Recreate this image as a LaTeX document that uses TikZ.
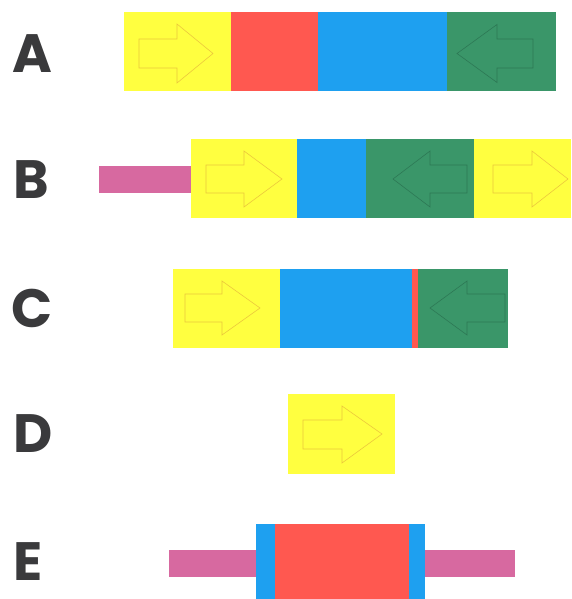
\documentclass[tikz,border=0pt]{standalone}
\usepackage{fontspec}
\setmainfont{Poppins}
\definecolor{yel}{RGB}{255,255,64}
\definecolor{redc}{RGB}{255,88,80}
\definecolor{bluc}{RGB}{30,160,240}
\definecolor{grnc}{RGB}{58,150,105}
\definecolor{pnk}{RGB}{215,105,160}
\definecolor{lettergray}{RGB}{58,58,60}
\definecolor{arrowy}{RGB}{235,200,60}
\definecolor{arrowg}{RGB}{45,120,85}
\begin{document}
\begin{tikzpicture}[x=1pt,y=-1pt,
  box/.style={draw=none, inner sep=0pt, outer sep=0pt, anchor=north west},
  lbl/.style={font=\fontsize{54}{54}\selectfont\bfseries, text=lettergray, inner sep=0pt, anchor=west},
  yarrow/.style={draw=arrowy, line width=0.6pt},
  garrow/.style={draw=arrowg, line width=0.6pt}]
\useasboundingbox (0,0) rectangle (571,599);

% Row A
\node[lbl] (LA) at (12,54) {A};
\node[box, fill=yel,  minimum width=107pt, minimum height=79pt] (a1) at (124,12) {};
\node[box, fill=redc, minimum width=87pt,  minimum height=79pt] (a2) at (231,12) {};
\node[box, fill=bluc, minimum width=129pt, minimum height=79pt] (a3) at (318,12) {};
\node[box, fill=grnc, minimum width=109pt, minimum height=79pt] (a4) at (447,12) {};
\draw[yarrow] (139,39)--(177,39)--(177,24)--(213,53.5)--(177,83)--(177,68)--(139,68)--cycle;
\draw[garrow] (533,39)--(497,39)--(497,24.5)--(457,53.5)--(497,82.5)--(497,68)--(533,68)--cycle;

% Row B
\node[lbl] (LB) at (13,180) {B};
\node[box, fill=pnk,  minimum width=92pt,  minimum height=27pt] (b0) at (99,166) {};
\node[box, fill=yel,  minimum width=106pt, minimum height=79pt] (b1) at (191,139) {};
\node[box, fill=bluc, minimum width=69pt,  minimum height=79pt] (b2) at (297,139) {};
\node[box, fill=grnc, minimum width=108pt, minimum height=79pt] (b3) at (366,139) {};
\node[box, fill=yel,  minimum width=97pt,  minimum height=79pt] (b4) at (474,139) {};
\draw[yarrow] (206,165)--(244,165)--(244,151)--(282,179)--(244,207)--(244,193)--(206,193)--cycle;
\draw[garrow] (467,165)--(430,165)--(430,151)--(393,179)--(430,207)--(430,193)--(467,193)--cycle;
\draw[yarrow] (493,165)--(532,165)--(532,151)--(568,179)--(532,207)--(532,193)--(493,193)--cycle;

% Row C
\node[lbl] (LC) at (11,308) {C};
\node[box, fill=yel,  minimum width=107pt, minimum height=79pt] (c1) at (173,269) {};
\node[box, fill=bluc, minimum width=132pt, minimum height=79pt] (c2) at (280,269) {};
\node[box, fill=redc, minimum width=6pt,   minimum height=79pt] (c3) at (412,269) {};
\node[box, fill=grnc, minimum width=90pt,  minimum height=79pt] (c4) at (418,269) {};
\draw[yarrow] (185,294)--(222,294)--(222,281)--(260,308)--(222,335)--(222,322)--(185,322)--cycle;
\draw[garrow] (505,294)--(467,294)--(467,281)--(430,308)--(467,335)--(467,322)--(505,322)--cycle;

% Row D
\node[lbl] (LD) at (13,434) {D};
\node[box, fill=yel, minimum width=107pt, minimum height=80pt] (d1) at (288,394) {};
\draw[yarrow] (303,420)--(342,420)--(342,406)--(382,434)--(342,463)--(342,449)--(303,449)--cycle;

% Row E
\node[lbl] (LE) at (13,562) {E};
\node[box, fill=pnk,  minimum width=87pt,  minimum height=27pt] (e0) at (169,550) {};
\node[box, fill=bluc, minimum width=169pt, minimum height=80pt] (e1) at (256,524) {};
\node[box, fill=redc, minimum width=134pt, minimum height=80pt] (e2) at (275,524) {};
\node[box, fill=pnk,  minimum width=90pt,  minimum height=27pt] (e3) at (425,550) {};
\end{tikzpicture}
\end{document}
